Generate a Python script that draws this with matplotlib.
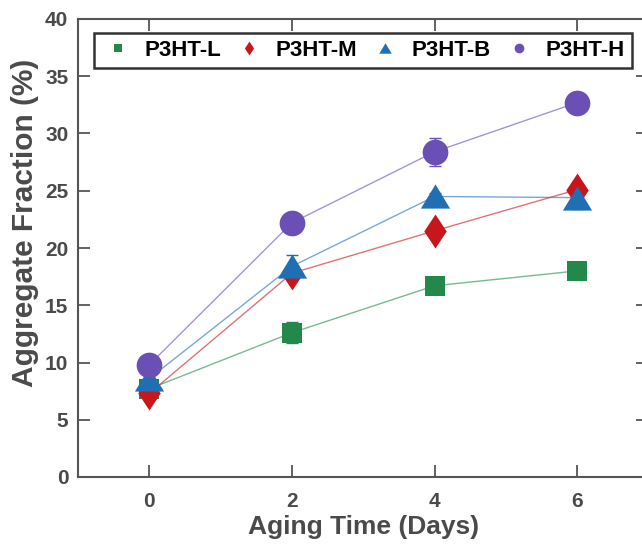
import numpy as np
import matplotlib.pyplot as plt
from matplotlib.lines import Line2D

plt.rcParams['font.family'] = ['Liberation Sans', 'DejaVu Sans']
plt.rcParams['font.weight'] = 'bold'

days = [0, 2, 4, 6]

# aggregate fraction (%) and error for each polymer
frac_L = [7.7, 12.6, 16.7, 18.0]
err_L = [0.3, 0.9, 0.4, 0.3]
frac_M = [7.3, 17.8, 21.5, 25.1]
err_M = [0.3, 0.4, 0.4, 0.4]
frac_B = [8.6, 18.4, 24.5, 24.4]
err_B = [1.3, 1.0, 0.3, 1.0]
frac_H = [9.8, 22.2, 28.4, 32.7]
err_H = [0.3, 0.4, 1.2, 0.3]

names = ['P3HT-L', 'P3HT-M', 'P3HT-B', 'P3HT-H']
colors = ['#22894a', '#c8171c', '#1f6fb2', '#6a50b5']

# wide diamond and flat triangle marker shapes
diamond = [(0, 1), (0.66, 0), (0, -1), (-0.66, 0), (0, 1)]
triangle = [(0, 0.83), (1, -0.83), (-1, -0.83), (0, 0.83)]
markers = ['s', diamond, triangle, 'o']
sizes = [15, 24.5, 21, 18.5]
leg_sizes = [6, 10, 9, 7]

fig = plt.figure(figsize=(6.42, 5.48), dpi=100)
ax = fig.add_axes([78/642, 1 - 477/548, (648.5 - 78)/642, (477 - 19)/548])

series = [(frac_L, err_L), (frac_M, err_M), (frac_B, err_B), (frac_H, err_H)]
for (y, e), c, m, s in zip(series, colors, markers, sizes):
    ax.plot(days, y, '-', color=c, lw=1.0, alpha=0.6, zorder=2)
    ax.errorbar(days, y, yerr=e, fmt='none', ecolor=c, elinewidth=1.0,
                capsize=4, capthick=1.0, zorder=3)
    ax.plot(days, y, linestyle='none', marker=m, markersize=s, color=c,
            markeredgewidth=0, zorder=4)

ax.set_xlim(-1, 7)
ax.set_ylim(0, 40)
ax.set_xticks(days)
ax.set_yticks(np.arange(0, 41, 5))

for sp in ax.spines.values():
    sp.set_color('#555555')
    sp.set_linewidth(1.5)
ax.tick_params(direction='in', length=8.5, width=1.3, color='#555555',
               labelsize=15, labelcolor='#4a4a4a', top=True, right=True)
ax.tick_params(axis='x', pad=11)
ax.tick_params(axis='y', pad=7)

ax.set_xlabel('Aging Time (Days)', fontsize=19, fontweight='bold',
              color='#4a4a4a', labelpad=3)
ax.set_ylabel('Aggregate Fraction (%)', fontsize=21.5, fontweight='bold',
              color='#4a4a4a')
ax.yaxis.set_label_coords(-0.069, 0.555)

handles = [Line2D([], [], linestyle='none', marker=m, color=c,
                  markersize=s, markeredgewidth=0)
           for m, c, s in zip(markers, colors, leg_sizes)]
leg = ax.legend(handles, names, loc='upper left', ncol=4,
                bbox_to_anchor=(94/642, 1 - 33/548),
                bbox_transform=fig.transFigure, borderaxespad=0,
                frameon=True, fancybox=False, fontsize=16,
                handlelength=1.5, handletextpad=0.45, columnspacing=0.5,
                borderpad=0.32)
leg.get_frame().set_edgecolor('black')
leg.get_frame().set_linewidth(1.8)
for t in leg.get_texts():
    t.set_fontweight('bold')

fig.savefig('out.png', dpi=100)
